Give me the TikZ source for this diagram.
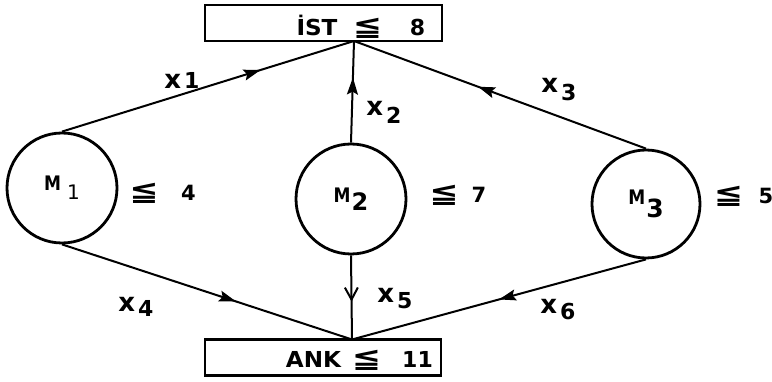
\documentclass[tikz,border=0pt]{standalone}
\usepackage{fontspec}
\setmainfont{DejaVu Sans}
\newfontfamily\symfont{DejaVu Sans}
\usetikzlibrary{arrows.meta,decorations.markings}
\newcommand{\leqs}{{\symfont\bfseries ≦}}
\newcommand{\xlab}[2]{{\fontsize{26}{26}\selectfont\bfseries x}\hspace{3pt}\raisebox{#2}{\fontsize{22}{22}\selectfont\bfseries #1}}
\newcommand{\bigleq}{{\fontsize{28}{28}\selectfont\scalebox{1.25}[1]{\leqs}}}
\newcommand{\wide}[1]{\scalebox{1.05}[1]{#1}}
\newcommand{\emm}{\scalebox{0.85}[1]{M}}
\begin{document}
\begin{tikzpicture}[x=1pt,y=-1pt,
  boxnode/.style={draw, line width=2.4pt, minimum height=36pt, inner sep=0pt,
    text width=#1, align=left, text depth=0pt,
    font=\fontsize{22}{22}\selectfont\bfseries},
  machine/.style={draw, circle, line width=2.8pt, minimum size=#1, inner sep=0pt,
    font=\fontsize{20}{20}\selectfont\bfseries},
  flow/.style={line width=2pt},
  midarrow/.style={postaction={decorate}, decoration={markings,
    mark=at position #1 with {\arrow{Stealth[length=17pt,width=11pt,inset=3pt]}}}},
  midbarb/.style={postaction={decorate}, decoration={markings,
    mark=at position #1 with {\arrow{Straight Barb[length=12pt,width=13pt,line width=2pt]}}}},
  lbl/.style={inner sep=0pt},
  cons/.style={inner sep=0pt, font=\fontsize{21}{21}\selectfont\bfseries}]
\useasboundingbox (0,0) rectangle (772,382);
% boxes
\node[boxnode=237pt, text height=25pt] (ist) at (323.5,23)
  {\hspace*{92pt}\makebox[40pt]{\wide{İST}}\hspace{16pt}\makebox[29pt]{\bigleq}\hspace{30pt}\makebox[11pt]{8}};
\node[boxnode=236pt, text height=20pt] (ank) at (323,357.5)
  {\hspace*{87pt}\makebox[43pt]{\wide{ANK}}\hspace{15pt}\makebox[33pt]{\bigleq}\hspace{29pt}\makebox[11pt]{11}};
\coordinate (jt) at (354,41);
\coordinate (jb) at (352,339.5);
% machines
\node[machine=110pt] (m1) at (62,188) {\emm\hspace{6pt}\raisebox{-9pt}{\mdseries 1}};
\node[machine=110pt] (m2) at (351,199) {\emm\hspace{1pt}\raisebox{-8pt}{\fontsize{24}{24}\selectfont 2}};
\node[machine=108pt] (m3) at (646,204) {\emm\hspace{1pt}\raisebox{-13pt}{\fontsize{25}{25}\selectfont 3}};
% capacity labels
\node[cons] (c1) at (162.5,193) {\makebox[28pt]{\bigleq}\hspace{24pt}\makebox[13pt]{4}};
\node[cons] (c2) at (455.5,195) {\makebox[32pt]{\bigleq}\hspace{15pt}\makebox[8pt]{7}};
\node[cons] (c3) at (743.5,196) {\makebox[27pt]{\bigleq}\hspace{18pt}\makebox[12pt]{5}};
% flows
\draw[flow, midarrow=0.68] (m1.north) -- (jt);
\draw[flow, midarrow=0.64] (m2.north) -- (jt);
\draw[flow, midarrow=0.575] (m3.north) -- (jt);
\draw[flow, midarrow=0.6] (m1.south) -- (jb);
\draw[flow, midbarb=0.55] (m2.south) -- (jb);
\draw[flow, midarrow=0.5] (m3.south) -- (jb);
% flow labels
\node[lbl] (x1) at (182,80) {\xlab{1}{0pt}};
\node[lbl] (x2) at (384,112) {\xlab{2}{-8pt}};
\node[lbl] (x3) at (559,90) {\xlab{3}{-8pt}};
\node[lbl] (x4) at (136,307) {\xlab{4}{-5pt}};
\node[lbl] (x5) at (395,299) {\xlab{5}{-6pt}};
\node[lbl] (x6) at (558,310) {\xlab{6}{-6pt}};
\end{tikzpicture}
\end{document}
